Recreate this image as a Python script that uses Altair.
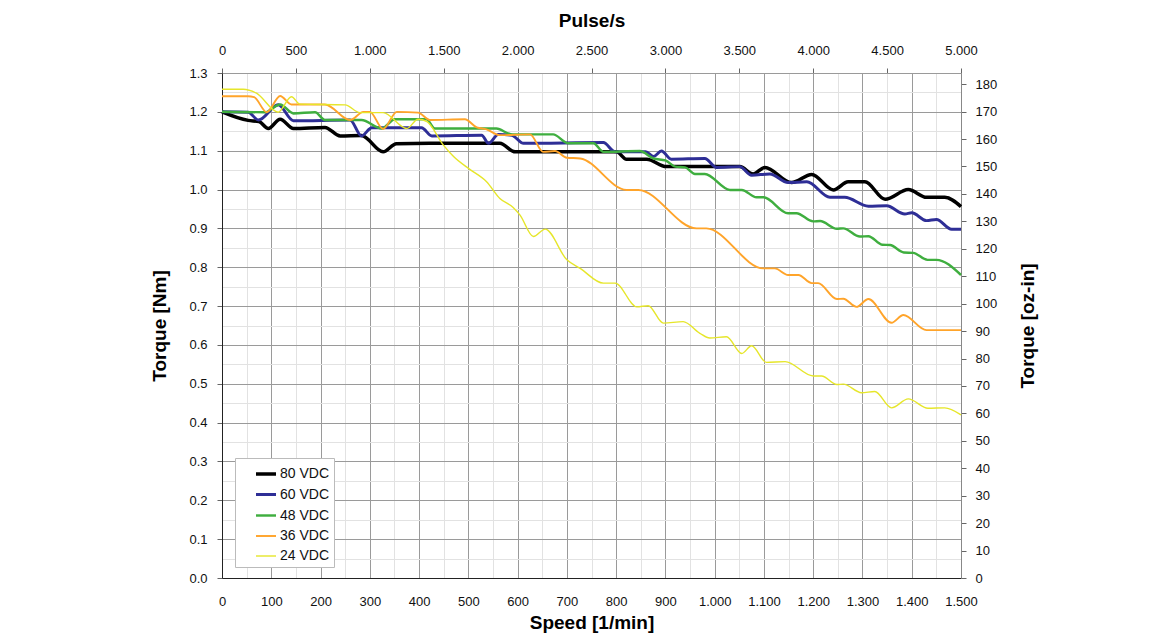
import altair as alt
import pandas as pd

# ---- data ----
series_names = ["80 VDC", "60 VDC", "48 VDC", "36 VDC", "24 VDC"]
series_colors = ["#000000", "#2e2e96", "#3fae3f", "#ffa42a", "#e6e62a"]
series_widths = [3.5, 1.4, 1.4, 1.6, 1.6]

v80_rpm = [0, 53, 75, 94, 118, 145, 209, 240, 283, 327, 354, 442, 564, 595, 801, 821, 862, 902,
           1051, 1078, 1102, 1156, 1197, 1241, 1271, 1305, 1346, 1393, 1430, 1467, 1500]
v80_nm = [1.20, 1.178, 1.175, 1.157, 1.181, 1.157, 1.160, 1.138, 1.139, 1.097, 1.118, 1.119, 1.119,
          1.097, 1.097, 1.078, 1.078, 1.059, 1.059, 1.040, 1.057, 1.018, 1.039, 0.999, 1.020, 1.020,
          0.975, 1.000, 0.980, 0.980, 0.956]

v60_rpm = [0, 53, 74, 114, 145, 260, 283, 304, 405, 426, 527, 541, 561, 588, 612, 774, 798, 860,
           876, 892, 912, 980, 1004, 1051, 1075, 1112, 1149, 1187, 1234, 1264, 1312, 1349, 1386,
           1400, 1430, 1450, 1481, 1500]
v60_nm = [1.20, 1.199, 1.179, 1.218, 1.177, 1.179, 1.138, 1.159, 1.159, 1.138, 1.140, 1.119, 1.142,
          1.140, 1.119, 1.121, 1.097, 1.097, 1.085, 1.099, 1.078, 1.080, 1.057, 1.059, 1.037, 1.040,
          1.018, 1.020, 0.980, 0.980, 0.957, 0.958, 0.937, 0.940, 0.920, 0.923, 0.898, 0.898]

v48_rpm = [0, 87, 118, 145, 189, 209, 283, 324, 351, 415, 432, 557, 588, 672, 703, 754, 774, 848,
           876, 900, 920, 940, 960, 980, 1031, 1055, 1085, 1099, 1149, 1166, 1200, 1214, 1248,
           1261, 1295, 1312, 1340, 1356, 1384, 1403, 1432, 1450, 1500]
v48_nm = [1.20, 1.199, 1.219, 1.196, 1.199, 1.179, 1.179, 1.157, 1.181, 1.181, 1.157, 1.157, 1.142,
          1.142, 1.119, 1.119, 1.097, 1.099, 1.080, 1.075, 1.059, 1.057, 1.040, 1.040, 0.999, 0.999,
          0.980, 0.980, 0.939, 0.939, 0.918, 0.919, 0.899, 0.900, 0.879, 0.880, 0.858, 0.857, 0.838,
          0.837, 0.819, 0.819, 0.780]

v36_rpm = [0, 53, 65, 91, 118, 141, 209, 260, 287, 300, 327, 355, 398, 422, 493, 517, 537, 564,
           625, 652, 676, 700, 727, 821, 845, 963, 983, 1099, 1122, 1149, 1170, 1197, 1210, 1248,
           1261, 1288, 1312, 1359, 1383, 1430, 1500]
v36_nm = [1.240, 1.240, 1.238, 1.199, 1.241, 1.219, 1.219, 1.179, 1.200, 1.200, 1.156, 1.200, 1.198,
          1.179, 1.181, 1.160, 1.155, 1.140, 1.142, 1.097, 1.099, 1.082, 1.080, 0.999, 0.999, 0.900,
          0.900, 0.797, 0.797, 0.780, 0.780, 0.759, 0.759, 0.718, 0.719, 0.698, 0.718, 0.657, 0.677,
          0.638, 0.638]

v24_rpm = [0, 43, 70, 114, 141, 158, 250, 280, 327, 375, 398, 416, 449, 470, 503, 537, 564, 591,
           605, 632, 656, 700, 727, 774, 798, 842, 865, 896, 936, 970, 990, 1024, 1055, 1075, 1105,
           1143, 1200, 1217, 1248, 1261, 1298, 1325, 1359, 1393, 1433, 1467, 1500]
v24_nm = [1.258, 1.258, 1.248, 1.199, 1.239, 1.220, 1.218, 1.198, 1.198, 1.157, 1.181, 1.175, 1.115,
          1.085, 1.052, 1.020, 0.977, 0.954, 0.934, 0.879, 0.898, 0.819, 0.797, 0.759, 0.759, 0.698,
          0.701, 0.656, 0.660, 0.630, 0.618, 0.621, 0.578, 0.598, 0.555, 0.557, 0.520, 0.520, 0.498,
          0.499, 0.477, 0.480, 0.438, 0.461, 0.437, 0.438, 0.420]

speed_max = 1500
pulse_max = 5000
torque_max = 1.3
oz_per_nm = 141.6

rows = []
for name, rpm, nm in zip(series_names,
                         [v80_rpm, v60_rpm, v48_rpm, v36_rpm, v24_rpm],
                         [v80_nm, v60_nm, v48_nm, v36_nm, v24_nm]):
    for i, (r, t) in enumerate(zip(rpm, nm)):
        rows.append({"series": name, "rpm": r, "nm": t, "order": i})
df = pd.DataFrame(rows)

FONT = "Liberation Sans"

x_vals = list(range(0, speed_max + 1, 50))
y_vals = [round(i * 0.05, 2) for i in range(27)]

grid_x = {"condition": {"test": "datum.value % 100 === 0", "value": "#9a9a9a"}, "value": "#e2e2e2"}
grid_y = {"condition": {"test": "round(datum.value * 100) % 10 === 0", "value": "#9a9a9a"}, "value": "#e2e2e2"}
tick_y = {"condition": {"test": "round(datum.value * 100) % 10 === 0", "value": 1}, "value": 0}

legend_label_expr = "datum.label + '\u2003\u2003'"

lines = alt.Chart(df).mark_line(interpolate="monotone").encode(
    x=alt.X("rpm:Q",
            scale=alt.Scale(domain=[0, speed_max], nice=False),
            axis=alt.Axis(orient="bottom", values=x_vals, title="Speed [1/min]",
                          labelExpr="datum.value % 100 === 0 ? replace(format(datum.value, ','), ',', '.') : ''",
                          labelOverlap=False, labelFlush=False, gridColor=grid_x, gridOpacity=1,
                          ticks=False, labelPadding=17, titlePadding=5, domainColor="#222222")),
    y=alt.Y("nm:Q",
            scale=alt.Scale(domain=[0, torque_max], nice=False),
            axis=alt.Axis(orient="left", values=y_vals, title="Torque [Nm]",
                          labelExpr="round(datum.value * 100) % 10 === 0 ? format(datum.value, '.1f') : ''",
                          labelOverlap=False, labelFlush=False, gridColor=grid_y, gridOpacity=1,
                          tickSize=5, tickOpacity=tick_y, tickColor="#666666",
                          labelPadding=10, titlePadding=19, domainColor="#222222")),
    color=alt.Color("series:N", scale=alt.Scale(domain=series_names, range=series_colors),
                    legend=alt.Legend(title=None, labelExpr=legend_label_expr)),
    strokeWidth=alt.StrokeWidth("series:N", scale=alt.Scale(domain=series_names, range=series_widths),
                                legend=alt.Legend(title=None, labelExpr=legend_label_expr)),
    order="order:Q",
)

secondary = alt.Chart(df).transform_calculate(
    pulse=f"datum.rpm * {pulse_max} / {speed_max}",
    oz=f"datum.nm * {oz_per_nm}",
).mark_line(opacity=0).encode(
    x=alt.X("pulse:Q", scale=alt.Scale(domain=[0, pulse_max], nice=False),
            axis=alt.Axis(orient="top", values=list(range(0, pulse_max + 1, 500)), title="Pulse/s",
                          labelExpr="replace(format(datum.value, ','), ',', '.')",
                          grid=False, tickSize=5, tickColor="#666666", labelPadding=11,
                          labelFlush=False, titlePadding=14, domainColor="#9a9a9a",
                          labelOverlap=False)),
    y=alt.Y("oz:Q", scale=alt.Scale(domain=[0, torque_max * oz_per_nm], nice=False),
            axis=alt.Axis(orient="right", values=list(range(0, 181, 10)), title="Torque [oz-in]",
                          titleAngle=270, grid=False, tickSize=5, tickColor="#666666",
                          labelPadding=9, labelFlush=False, titlePadding=41,
                          domainColor="#888888", labelOverlap=False)),
    detail="series:N",
)

chart = alt.layer(lines, secondary).resolve_scale(
    x="independent", y="independent"
).properties(
    width=739, height=505,
    autosize=alt.AutoSizeParams(type="none"),
    padding={"left": 214, "top": 65, "right": 180, "bottom": 58},
).configure_view(stroke=None).configure_axis(
    labelFont=FONT, labelFontSize=13, labelColor="#111111",
    titleFont=FONT, titleFontSize=19, titleFontWeight="bold", titleColor="#000000",
).configure_legend(
    orient="none", legendX=13, legendY=385,
    fillColor="#ffffff", strokeColor="#bbbbbb", padding=4,
    labelFont=FONT, labelFontSize=14, labelColor="#111111",
    symbolType="stroke", symbolSize=400, rowPadding=2, labelOffset=2,
    symbolOffset=15,
)

chart.save("out.html", embed_options={"renderer": "svg", "actions": False})
